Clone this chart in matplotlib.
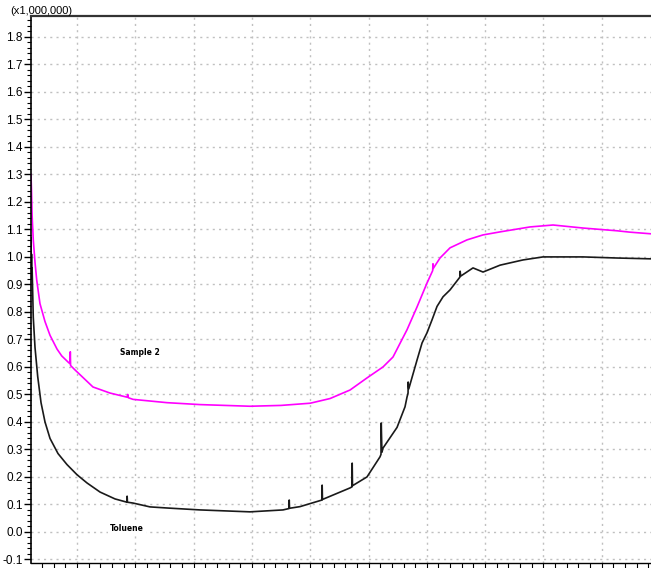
import matplotlib
matplotlib.use("Agg")
import matplotlib.pyplot as plt
from matplotlib.ticker import MultipleLocator, FixedLocator, NullFormatter

# Sample 2 (magenta) trace, values in units of 1,000,000
sample2_x = [0.211, 0.220, 0.230, 0.250, 0.280, 0.309, 0.365, 0.451, 0.537, 0.657,
             0.738, 0.860, 0.880, 0.885, 0.890, 0.966, 1.274, 1.566, 1.858, 1.870,
             1.880, 1.961, 2.544, 3.110, 3.967, 4.500, 5.000, 5.340, 5.683, 5.974,
             6.249, 6.420, 6.660, 6.832, 7.003, 7.100, 7.106, 7.110, 7.226, 7.398,
             7.690, 7.964, 8.256, 8.770, 9.165, 9.679, 10.262, 10.485, 10.845]
sample2_y = [1.300, 1.240, 1.150, 1.062, 0.980, 0.916, 0.830, 0.765, 0.715, 0.665,
             0.640, 0.615, 0.612, 0.655, 0.605, 0.589, 0.527, 0.505, 0.490, 0.500,
             0.488, 0.482, 0.470, 0.463, 0.457, 0.460, 0.468, 0.485, 0.516, 0.560,
             0.600, 0.636, 0.735, 0.818, 0.905, 0.950, 0.975, 0.958, 0.996, 1.033,
             1.062, 1.080, 1.091, 1.109, 1.116, 1.105, 1.095, 1.090, 1.084]

# Toluene (black) trace
toluene_x = [0.211, 0.215, 0.220, 0.225, 0.230, 0.250, 0.280, 0.326, 0.383, 0.451,
             0.537, 0.674, 0.828, 1.000, 1.172, 1.395, 1.652, 1.858, 1.860, 1.865,
             1.961, 2.252, 2.544, 3.110, 3.967, 4.533, 4.636, 4.640, 4.645, 4.825,
             5.202, 5.205, 5.210, 5.683, 5.717, 5.720, 5.725, 5.974, 6.197, 6.214,
             6.218, 6.230, 6.249, 6.489, 6.626, 6.660, 6.678, 6.680, 6.690, 6.832,
             6.918, 7.003, 7.089, 7.175, 7.278, 7.398, 7.569, 7.572, 7.580, 7.792,
             7.964, 8.256, 8.650, 8.993, 9.679, 10.262, 10.845]
toluene_y = [1.070, 0.930, 1.010, 0.920, 0.960, 0.780, 0.670, 0.565, 0.470, 0.400,
             0.340, 0.285, 0.245, 0.208, 0.178, 0.145, 0.120, 0.108, 0.130, 0.108,
             0.105, 0.091, 0.087, 0.080, 0.073, 0.080, 0.085, 0.116, 0.086, 0.092,
             0.116, 0.170, 0.118, 0.160, 0.164, 0.250, 0.168, 0.200, 0.273, 0.282,
             0.396, 0.290, 0.305, 0.380, 0.455, 0.490, 0.505, 0.545, 0.520, 0.625,
             0.687, 0.724, 0.771, 0.820, 0.855, 0.880, 0.927, 0.948, 0.930, 0.960,
             0.945, 0.970, 0.989, 1.000, 1.000, 0.996, 0.993]

y_ticks = [-0.1, 0.0, 0.1, 0.2, 0.3, 0.4, 0.5, 0.6, 0.7, 0.8, 0.9, 1.0,
           1.1, 1.2, 1.3, 1.4, 1.5, 1.6, 1.7, 1.8]
x_grid = [1, 2, 3, 4, 5, 6, 7, 8, 9, 10]

fig = plt.figure(figsize=(6.51, 5.68), dpi=100)
ax = fig.add_axes([31 / 651, 1 - 563 / 568, 1 - 31 / 651, (563 - 16) / 568])

ax.plot(sample2_x, sample2_y, color="#ff00ff", lw=1.2)
ax.plot(toluene_x, toluene_y, color="#1a1a1a", lw=1.2)

ax.set_xlim(0.211, 10.845)
ax.set_ylim(-0.113, 1.876)

ax.yaxis.set_major_locator(FixedLocator(y_ticks))
ax.yaxis.set_minor_locator(MultipleLocator(0.02))
ax.set_yticklabels([f"{v:.1f}" for v in y_ticks])
ax.xaxis.set_major_locator(FixedLocator(x_grid))
ax.xaxis.set_minor_locator(MultipleLocator(0.2))
ax.xaxis.set_major_formatter(NullFormatter())

ax.grid(True, which="major", color="#c0c0c0", linestyle=(0, (1.5, 3)), lw=1.0)
ax.tick_params(axis="y", which="major", length=5, width=1, labelsize=8.5, pad=1,
               direction="out", color="black")
ax.tick_params(axis="y", which="minor", length=3, width=0.8, direction="out")
ax.tick_params(axis="x", which="both", length=5, width=0.8, direction="out")

for lab in ax.get_yticklabels():
    lab.set_family("Liberation Sans")

ax.spines["right"].set_visible(False)
ax.spines["top"].set_color("#333333")
ax.spines["top"].set_linewidth(1.6)
ax.spines["left"].set_linewidth(1.2)
ax.spines["bottom"].set_linewidth(1.0)

fig.text(10 / 651, 1 - 11 / 568, "(x1,000,000)", fontsize=8, family="Liberation Sans",
         va="center", ha="left")

ax.text(2.08, 0.651, "Sample 2", fontsize=5.5, family="DejaVu Sans", weight="bold",
        ha="center", va="center",
        bbox=dict(facecolor="white", edgecolor="none", pad=1.5))
ax.text(1.85, 0.012, "Toluene", fontsize=5.5, family="DejaVu Sans", weight="bold",
        ha="center", va="center",
        bbox=dict(facecolor="white", edgecolor="none", pad=1.5))

fig.savefig("out.png", dpi=100)
